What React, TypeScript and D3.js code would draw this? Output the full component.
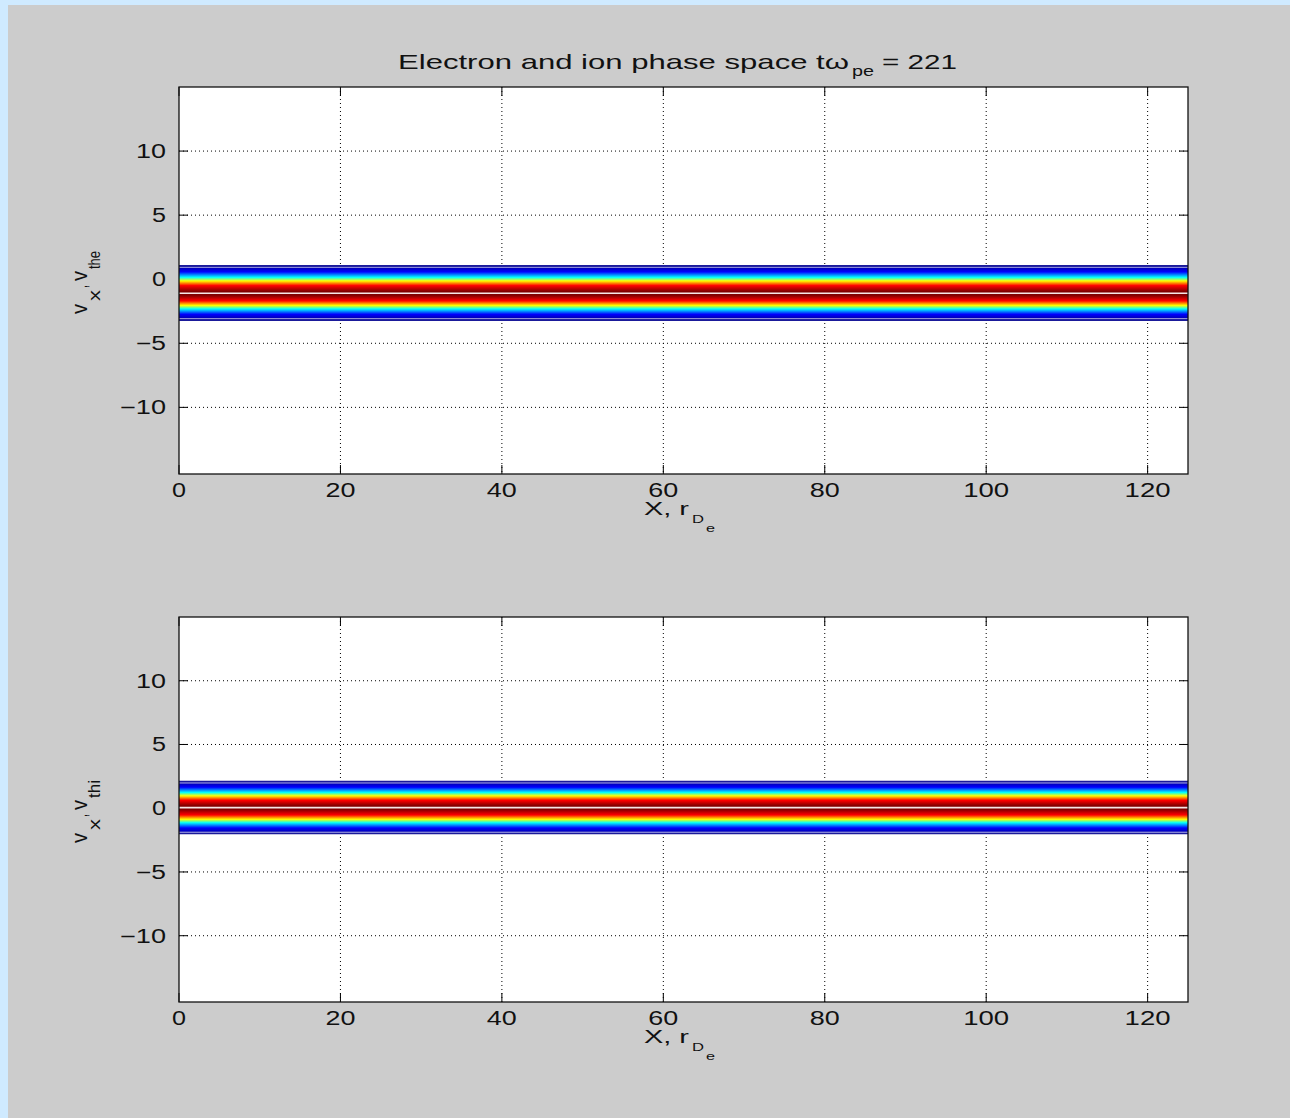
import React from "react";
import * as d3 from "d3";

// axis ticks
const xTicks = [0, 20, 40, 60, 80, 100, 120];
const yTicks = [-10, -5, 0, 5, 10];
const xDomain = [0, 125];
const yDomain = [-15.2, 15];

// phase-space bands (electrons, ions), in v / v_th
const panelNames = ["electron", "ion"];
const bandLow = [-3.2, -2.0];
const bandHigh = [1.05, 2.1];
const bandPeak = [-1.1, 0.05];
const ySub = ["the", "thi"];

// jet colormap, edge of band -> peak
const jetColors = ["#00008f", "#0000ff", "#00ffff", "#ffff00", "#ff0000", "#800000"];
const jetOffsets = [0, 0.22, 0.42, 0.55, 0.72, 0.93];

const W = 1290;
const H = 1118;
const panelTop = [87, 617];
const panelBottom = [474, 1002];
const left = 179;
const right = 1188;
const font = "'Liberation Sans', Arial, sans-serif";
const ink = "#111";

// the original bitmap font is wide, so labels are stretched to fit
const digitW = 16;
const labelLen = (s: string) => s.length * digitW - 2;
const fmt = (t: number) => (t < 0 ? "\u2212" + Math.abs(t) : String(t));

const Stretch = ({ x, y, len, size, children }: any) => (
  <text x={x} y={y} fontSize={size} textLength={len} lengthAdjust="spacingAndGlyphs" fill={ink}>
    {children}
  </text>
);

const Panel = ({ i }: { i: number }) => {
  const x = d3.scaleLinear().domain(xDomain).range([left, right]);
  const y = d3.scaleLinear().domain(yDomain).range([panelBottom[i], panelTop[i]]);
  const top = panelTop[i];
  const bottom = panelBottom[i];
  const tk = 9;
  const gHi = `grad-hi-${i}`;
  const gLo = `grad-lo-${i}`;
  const subLen = ySub[i].length * 6;
  const yLabLen = 45 + subLen;
  const yLabStart = (top + bottom) / 2 + 2 + yLabLen / 2;
  return (
    <g>
      <defs>
        <linearGradient id={gHi} x1="0" y1="0" x2="0" y2="1">
          {jetColors.map((c, k) => (
            <stop key={k} offset={jetOffsets[k]} stopColor={c} />
          ))}
        </linearGradient>
        <linearGradient id={gLo} x1="0" y1="1" x2="0" y2="0">
          {jetColors.map((c, k) => (
            <stop key={k} offset={jetOffsets[k]} stopColor={c} />
          ))}
        </linearGradient>
      </defs>
      <rect x={left} y={top} width={right - left} height={bottom - top} fill="#fff" />
      {/* grid */}
      {xTicks.slice(1).map((t) => (
        <line key={"gx" + t} x1={x(t)} x2={x(t)} y1={top} y2={bottom} stroke="#000" strokeDasharray="1,3" />
      ))}
      {yTicks.map((t) => (
        <line key={"gy" + t} x1={left} x2={right} y1={y(t)} y2={y(t)} stroke="#000" strokeDasharray="1,3" />
      ))}
      {/* ticks */}
      {xTicks.map((t) => (
        <g key={"tx" + t}>
          <line x1={x(t)} x2={x(t)} y1={bottom} y2={bottom - tk} stroke="#000" />
          <line x1={x(t)} x2={x(t)} y1={top} y2={top + tk} stroke="#000" />
        </g>
      ))}
      {yTicks.map((t) => (
        <g key={"ty" + t}>
          <line x1={left} x2={left + tk} y1={y(t)} y2={y(t)} stroke="#000" />
          <line x1={right} x2={right - tk} y1={y(t)} y2={y(t)} stroke="#000" />
        </g>
      ))}
      {/* band */}
      <rect x={left} y={y(bandHigh[i])} width={right - left} height={y(bandPeak[i]) - y(bandHigh[i])} fill={`url(#${gHi})`} />
      <rect x={left} y={y(bandPeak[i])} width={right - left} height={y(bandLow[i]) - y(bandPeak[i])} fill={`url(#${gLo})`} />
      <line x1={left} x2={right} y1={y(bandHigh[i]) + 1.5} y2={y(bandHigh[i]) + 1.5} stroke="#b8b8e6" strokeWidth={1} />
      <line x1={left} x2={right} y1={y(bandLow[i]) - 1.5} y2={y(bandLow[i]) - 1.5} stroke="#b8b8e6" strokeWidth={1} />
      <line x1={left} x2={right} y1={y(bandHigh[i])} y2={y(bandHigh[i])} stroke="#1a1a9a" strokeWidth={1.3} />
      <line x1={left} x2={right} y1={y(bandLow[i])} y2={y(bandLow[i])} stroke="#1a1a9a" strokeWidth={1.3} />
      <line x1={left} x2={right} y1={y(bandPeak[i])} y2={y(bandPeak[i])} stroke="#f6e6e6" strokeWidth={1.6} />
      {/* box */}
      <rect x={left} y={top} width={right - left} height={bottom - top} fill="none" stroke="#111" strokeWidth={1.3} />
      {/* tick labels */}
      {xTicks.map((t) => {
        const s = fmt(t);
        const len = labelLen(s);
        return (
          <Stretch key={"lx" + t} x={x(t) - len / 2} y={bottom + 23} len={len} size={19.5}>
            {s}
          </Stretch>
        );
      })}
      {yTicks.map((t) => {
        const s = fmt(t);
        const len = labelLen(s);
        return (
          <Stretch key={"ly" + t} x={166 - len} y={y(t) + 7} len={len} size={19.5}>
            {s}
          </Stretch>
        );
      })}
      {/* x label */}
      <Stretch x={644} y={bottom + 41} len={45} size={18}>X, r</Stretch>
      <Stretch x={692} y={bottom + 49} len={12} size={11}>D</Stretch>
      <Stretch x={706} y={bottom + 58} len={9} size={11}>e</Stretch>
      {/* y label, rotated */}
      <g transform={`translate(87,${yLabStart}) rotate(-90)`}>
        <Stretch x={0} y={0} len={10} size={22}>v</Stretch>
        <Stretch x={13} y={13} len={11} size={17}>x</Stretch>
        <Stretch x={26} y={0} len={3} size={20}>,</Stretch>
        <Stretch x={33} y={0} len={10} size={22}>v</Stretch>
        <Stretch x={45} y={13} len={subLen} size={17}>{ySub[i]}</Stretch>
      </g>
    </g>
  );
};

export default function App() {
  return (
    <div style={{ position: "absolute", left: 0, top: 0 }}>
      <svg width={W} height={H} style={{ display: "block", fontFamily: font }}>
        <rect x={0} y={0} width={W} height={H} fill="#cfeaff" />
        <rect x={8} y={5} width={W - 8} height={H - 5} fill="#cccccc" />
        {/* title */}
        <Stretch x={398} y={69} len={451} size={21}>Electron and ion phase space tω</Stretch>
        <Stretch x={852} y={76} len={22} size={14}>pe</Stretch>
        <Stretch x={882} y={69} len={75} size={21}>= 221</Stretch>
        {panelNames.map((p, i) => (
          <Panel key={p} i={i} />
        ))}
      </svg>
    </div>
  );
}
